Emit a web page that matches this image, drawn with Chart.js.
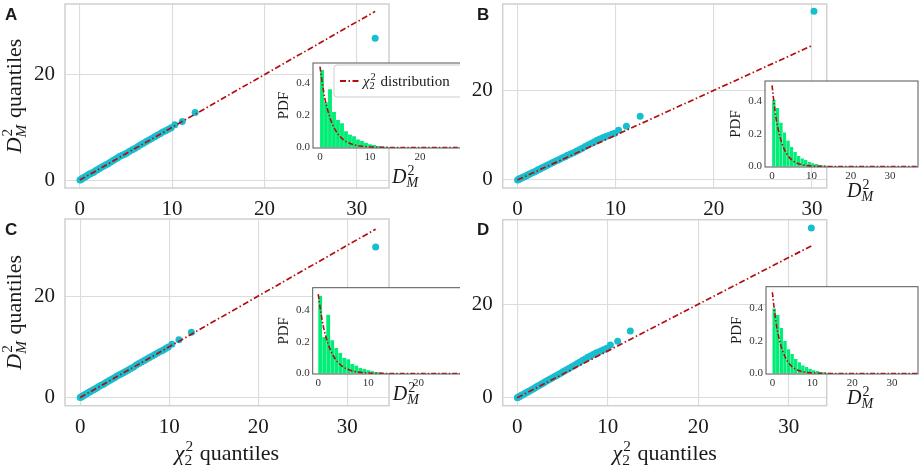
<!DOCTYPE html>
<html lang="en">
<head>
<meta charset="UTF-8">
<title>QQ plots of Mahalanobis distances</title>
<script src="https://cdn.jsdelivr.net/npm/chart.js"></script>
<style>
  body { margin: 0; background: #fff; }
  #fig { position: relative; width: 920px; height: 469px; overflow: hidden; }
  #fig canvas { position: absolute; }
</style>
</head>
<body>
<div id="fig"></div>
<script>
// ---- data ----
const qTicksX = [0, 10, 20, 30];
const qTicksY = [0, 20];
const pdfTicksY = [0, 0.2, 0.4];
const pdfTicksShort = [0, 10, 20];
const pdfTicksLong = [0, 10, 20, 30];

// chi2 quantiles (x) and D_M^2 quantiles (y), one pair per panel
const chiA = [0.02,0.1,0.2,0.3,0.42,0.55,0.7,0.85,1.0,1.15,1.3,1.5,1.7,1.9,2.1,2.3,2.5,2.7,2.9,3.1,3.35,3.6,3.85,4.1,4.35,4.6,4.85,5.1,5.4,5.7,6.0,6.3,6.6,6.9,7.2,7.5,7.8,8.1,8.4,8.7,9.0,9.3,9.6,9.9,10.3,11.1,12.5,32.0];
const dmA  = [0.0,0.08,0.22,0.35,0.45,0.58,0.75,0.9,1.1,1.2,1.35,1.5,1.75,1.95,2.15,2.4,2.6,2.75,2.95,3.15,3.45,3.7,3.95,4.25,4.5,4.7,4.9,5.15,5.45,5.75,6.05,6.35,6.7,7.0,7.3,7.6,7.9,8.2,8.5,8.8,9.1,9.35,9.65,9.95,10.5,11.1,12.8,26.9];
const refA = [0, 32.0];

const chiB = [0.02,0.1,0.2,0.3,0.42,0.55,0.7,0.85,1.0,1.15,1.3,1.5,1.7,1.9,2.1,2.3,2.5,2.7,2.9,3.1,3.35,3.6,3.85,4.1,4.35,4.6,4.85,5.1,5.4,5.7,6.0,6.3,6.6,6.9,7.2,7.5,7.8,8.1,8.4,8.7,9.0,9.3,9.6,9.9,10.3,11.1,12.5,30.2];
const dmB  = [0.0,0.1,0.2,0.32,0.45,0.58,0.74,0.9,1.05,1.2,1.38,1.58,1.8,2.0,2.25,2.45,2.7,2.9,3.1,3.35,3.6,3.9,4.15,4.4,4.7,4.95,5.2,5.5,5.8,6.1,6.4,6.75,7.1,7.45,7.8,8.15,8.5,8.85,9.15,9.45,9.7,9.95,10.2,10.45,11.1,12.0,14.2,37.7];
const refB = [0, 30.0];

const chiC = [0.02,0.1,0.2,0.3,0.42,0.55,0.7,0.85,1.0,1.15,1.3,1.5,1.7,1.9,2.1,2.3,2.5,2.7,2.9,3.1,3.35,3.6,3.85,4.1,4.35,4.6,4.85,5.1,5.4,5.7,6.0,6.3,6.6,6.9,7.2,7.5,7.8,8.1,8.4,8.7,9.0,9.3,9.6,9.9,10.3,11.1,12.5,33.2];
const dmC  = [0.0,0.1,0.2,0.33,0.45,0.6,0.72,0.88,1.05,1.2,1.35,1.52,1.72,1.95,2.2,2.38,2.55,2.75,2.95,3.15,3.4,3.65,3.9,4.2,4.45,4.65,4.9,5.15,5.45,5.75,6.05,6.4,6.7,7.0,7.3,7.6,7.9,8.2,8.5,8.8,9.1,9.35,9.65,9.95,10.5,11.4,12.9,29.7];
const refC = [0, 33.2];

const chiD = [0.02,0.1,0.2,0.3,0.42,0.55,0.7,0.85,1.0,1.15,1.3,1.5,1.7,1.9,2.1,2.3,2.5,2.7,2.9,3.1,3.35,3.6,3.85,4.1,4.35,4.6,4.85,5.1,5.4,5.7,6.0,6.3,6.6,6.9,7.2,7.5,7.8,8.1,8.4,8.7,9.0,9.3,9.6,9.9,10.3,11.1,12.5,32.5];
const dmD  = [0.0,0.1,0.22,0.33,0.46,0.6,0.75,0.92,1.08,1.24,1.4,1.6,1.82,2.05,2.28,2.5,2.72,2.95,3.15,3.4,3.68,3.95,4.22,4.5,4.78,5.05,5.32,5.6,5.92,6.25,6.58,6.92,7.25,7.6,7.95,8.3,8.65,8.95,9.25,9.55,9.8,10.05,10.3,10.6,11.3,12.1,14.3,36.3];
const refD = [0, 32.5];

// inset histograms: bin centres and densities
const binsAC = [0.4,1.2,2.0,2.8,3.6,4.4,5.2,6.0,6.8,7.6,8.4,9.2,10.0,10.8,11.6,12.4,13.2,14.0,14.8,15.6];
const histA  = [0.48,0.28,0.36,0.22,0.17,0.15,0.10,0.08,0.07,0.05,0.04,0.03,0.02,0.015,0.01,0.007,0.005,0.003,0.002,0.001];
const histC  = [0.49,0.23,0.37,0.21,0.16,0.13,0.10,0.09,0.06,0.05,0.035,0.03,0.02,0.014,0.01,0.007,0.005,0.003,0.002,0.001];
const binsBD = [0.45,1.35,2.25,3.15,4.05,4.95,5.85,6.75,7.65,8.55,9.45,10.35,11.25,12.15,13.05,13.95,14.85,15.75,16.65];
const histB  = [0.41,0.36,0.27,0.21,0.16,0.12,0.09,0.065,0.05,0.04,0.028,0.02,0.015,0.01,0.007,0.005,0.003,0.002,0.001];
const histD  = [0.40,0.36,0.28,0.20,0.15,0.12,0.09,0.07,0.05,0.04,0.03,0.02,0.015,0.01,0.007,0.005,0.003,0.002,0.001];

// chi2(2) density curve
const pdfX = [0,0.5,1,1.5,2,2.5,3,3.5,4,5,6,7,8,9,10,12,14,17,20,25,30,37];
const pdfY = [0.50,0.39,0.30,0.235,0.184,0.143,0.112,0.087,0.068,0.041,0.025,0.015,0.009,0.0056,0.0034,0.0012,0.0005,0.0001,0,0,0,0];

// ---- styles ----
const SERIF = '"Liberation Serif", "DejaVu Serif", serif';
const CYAN = '#17becf';
const RED = '#b50d0d';
const GREEN = '#00ee78';
const TXT = '#1a1a1a';
const DASH = [6, 2.5, 1.5, 2.5];

const dmTitle = [['i', 'D'], ['s', '2', 'M', true], ['n', ' quantiles']];
const chiTitle = [['i', 'χ'], ['s', '2', '2', false], ['n', ' quantiles']];
const dmShort = [['i', 'D'], ['s', '2', 'M', true]];
const legendText = [['i', 'χ'], ['s', '2', '2', false], ['n', ' distribution']];

// draws base text with stacked super/subscripts, returns width
function mathText(ctx, parts, size, x, y, draw) {
  let cx = x;
  for (const p of parts) {
    if (p[0] !== 's') {
      ctx.font = (p[0] === 'i' ? 'italic ' : '') + size + 'px ' + SERIF;
      if (draw) ctx.fillText(p[1], cx, y);
      cx += ctx.measureText(p[1]).width;
    } else {
      const s = size * 0.7;
      ctx.font = s + 'px ' + SERIF;
      const wSup = ctx.measureText(p[1]).width;
      if (draw) ctx.fillText(p[1], cx + 1, y - size * 0.4);
      ctx.font = (p[3] ? 'italic ' : '') + s + 'px ' + SERIF;
      const wSub = ctx.measureText(p[2]).width;
      if (draw) ctx.fillText(p[2], cx, y + size * 0.22);
      cx += Math.max(wSup + 1, wSub) + 1;
    }
  }
  return cx - x;
}

function centredMath(ctx, parts, size, cx, y) {
  const w = mathText(ctx, parts, size, 0, 0, false);
  mathText(ctx, parts, size, cx - w / 2, y, true);
}

const deco = {
  id: 'deco',
  beforeDraw(chart, args, o) {
    const { ctx, chartArea: a } = chart;
    ctx.save();
    ctx.fillStyle = '#fff';
    if (o.fillAll) ctx.fillRect(0, 0, chart.width, chart.height);
    else ctx.fillRect(a.left, a.top, a.right - a.left, a.bottom - a.top);
    ctx.restore();
  },
  afterDraw(chart, args, o) {
    const { ctx, chartArea: a } = chart;
    ctx.save();
    ctx.strokeStyle = o.frame;
    ctx.lineWidth = o.frameWidth;
    ctx.strokeRect(a.left, a.top, a.right - a.left, a.bottom - a.top);
    ctx.fillStyle = TXT;
    ctx.textAlign = 'left';
    ctx.textBaseline = 'alphabetic';
    if (o.letter) {
      ctx.font = 'bold 17px "Liberation Sans", Arial, sans-serif';
      ctx.fillText(o.letter, o.letterX, 20);
    }
    if (o.yTitle) {
      ctx.save();
      ctx.translate(21, (a.top + a.bottom) / 2);
      ctx.rotate(-Math.PI / 2);
      centredMath(ctx, o.yTitle, 22, 0, 0);
      ctx.restore();
    }
    if (o.xTitle) centredMath(ctx, o.xTitle, 22, (a.left + a.right) / 2, o.xTitleY);
    if (o.pdf) {
      ctx.save();
      ctx.translate(a.left - 29, (a.top + a.bottom) / 2);
      ctx.rotate(-Math.PI / 2);
      ctx.font = '15px ' + SERIF;
      ctx.textAlign = 'center';
      ctx.textBaseline = 'middle';
      ctx.fillText('PDF', 0, 0);
      ctx.restore();
      mathText(ctx, dmShort, 20, a.left + o.labelDx, a.bottom + o.labelDy, true);
    }
    if (o.legend) {
      const lx = a.left + 21, ly = a.top + 2, lw = a.right - 3 - lx, lh = 32;
      ctx.fillStyle = 'rgba(255,255,255,0.85)';
      ctx.strokeStyle = '#cccccc';
      ctx.lineWidth = 1;
      ctx.beginPath();
      ctx.roundRect(lx, ly, lw, lh, 3);
      ctx.fill();
      ctx.stroke();
      ctx.strokeStyle = RED;
      ctx.lineWidth = 1.8;
      ctx.setLineDash(DASH);
      ctx.beginPath();
      ctx.moveTo(a.left + 27, a.top + 18);
      ctx.lineTo(a.left + 46, a.top + 18);
      ctx.stroke();
      ctx.setLineDash([]);
      ctx.fillStyle = TXT;
      mathText(ctx, legendText, 15, a.left + 50, a.top + 23, true);
    }
    ctx.restore();
  }
};

const fig = document.getElementById('fig');
function addCanvas(b) {
  const c = document.createElement('canvas');
  c.width = b.w; c.height = b.h;
  c.style.left = b.l + 'px'; c.style.top = b.t + 'px';
  c.style.width = b.w + 'px'; c.style.height = b.h + 'px';
  fig.appendChild(c);
  return c;
}

function setTicks(list) {
  return s => { s.ticks = list.map(v => ({ value: v })); };
}
// fix the axis band sizes and drop the label overhang padding
function fitX(h) {
  return s => { s.height = h; s.paddingLeft = 0; s.paddingRight = 0; };
}
function fitY(w) {
  return s => { s.width = w; s.paddingTop = 0; s.paddingBottom = 0; };
}

// main QQ panel; area is absolute page coordinates of the plot box
function qqChart(p) {
  const b = p.box, a = p.area;
  const c = addCanvas(b);
  new Chart(c, {
    type: 'scatter',
    data: {
      datasets: [
        { type: 'line', data: p.ref.map(v => ({ x: v, y: v })), borderColor: RED, borderWidth: 1.7,
          borderDash: DASH, pointRadius: 0, fill: false },
        { data: p.chi.map((x, i) => ({ x: x, y: p.dm[i] })), backgroundColor: CYAN,
          pointRadius: 3.5, pointBorderWidth: 0 }
      ]
    },
    options: {
      responsive: false, animation: false, events: [],
      layout: { padding: { top: a.t - b.t, right: b.l + b.w - a.r, left: 0, bottom: 0 } },
      plugins: {
        legend: { display: false }, tooltip: { enabled: false },
        deco: { fillAll: true, frame: '#d0d0d0', frameWidth: 1.5, letter: p.letter, letterX: p.letterX,
                yTitle: p.yTitle, xTitle: p.xTitle, xTitleY: 245 }
      },
      scales: {
        x: {
          type: 'linear', min: p.x[0], max: p.x[1],
          afterBuildTicks: setTicks(qTicksX),
          afterFit: fitX(b.t + b.h - a.b),
          grid: { color: '#dcdcdc', lineWidth: 1.1, drawTicks: false },
          border: { display: false },
          ticks: { font: { family: SERIF, size: 21 }, color: TXT, padding: 9, maxRotation: 0 }
        },
        y: {
          type: 'linear', min: p.y[0], max: p.y[1],
          afterBuildTicks: setTicks(qTicksY),
          afterFit: fitY(a.l - b.l),
          grid: { color: '#dcdcdc', lineWidth: 1.1, drawTicks: false },
          border: { display: false },
          ticks: { font: { family: SERIF, size: 21 }, color: TXT, padding: 10 }
        }
      }
    },
    plugins: [deco]
  });
}

// inset histogram with the chi2 density
function pdfChart(p) {
  const b = p.box, a = p.area;
  const c = addCanvas(b);
  new Chart(c, {
    type: 'bar',
    data: {
      datasets: [
        { type: 'line', data: pdfX.map((x, i) => ({ x: x, y: pdfY[i] })), borderColor: RED, borderWidth: 1.6,
          borderDash: [5, 2, 1.5, 2], pointRadius: 0, fill: false, cubicInterpolationMode: 'monotone' },
        { type: 'bar', data: p.bins.map((x, i) => ({ x: x, y: p.hist[i] })), backgroundColor: GREEN,
          borderColor: 'rgba(255,255,255,0.7)', borderWidth: { left: 0.4, right: 0.4, top: 0, bottom: 0 },
          borderSkipped: false, barPercentage: 1, categoryPercentage: 1 }
      ]
    },
    options: {
      responsive: false, animation: false, events: [],
      layout: { padding: { top: a.t - b.t, right: b.l + b.w - a.r, left: 0, bottom: 0 } },
      plugins: {
        legend: { display: false }, tooltip: { enabled: false },
        deco: { fillAll: false, frame: '#555555', frameWidth: 1, pdf: true,
                labelDx: p.labelDx, labelDy: p.labelDy, legend: p.legend }
      },
      scales: {
        x: {
          type: 'linear', min: p.x[0], max: p.x[1], offset: false,
          afterBuildTicks: setTicks(p.xTicks),
          afterFit: fitX(b.t + b.h - a.b),
          grid: { display: false, drawTicks: false, offset: false },
          border: { display: false },
          ticks: { font: { family: SERIF, size: 11 }, color: '#333', padding: 3, maxRotation: 0 }
        },
        y: {
          type: 'linear', min: p.y[0], max: p.y[1],
          afterBuildTicks: setTicks(pdfTicksY),
          afterFit: fitY(a.l - b.l),
          grid: { display: false, drawTicks: false },
          border: { display: false },
          ticks: { font: { family: SERIF, size: 11 }, color: '#333', padding: 3,
                   callback: v => v.toFixed(1) }
        }
      }
    },
    plugins: [deco]
  });
}

qqChart({ box: { l: 0, t: 0, w: 460, h: 215 }, area: { l: 65, t: 2, r: 389, b: 188 },
  chi: chiA, dm: dmA, ref: refA, x: [-1.6, 33.5], y: [-1.5, 33.4],
  letter: 'A', letterX: 5, yTitle: dmTitle });
pdfChart({ box: { l: 270, t: 55, w: 200, h: 140 }, area: { l: 313, t: 63, r: 466, b: 148 },
  bins: binsAC, hist: histA, x: [-1.4, 29.2], y: [-0.003, 0.523], xTicks: pdfTicksShort,
  labelDx: 79, labelDy: 35, legend: true });

qqChart({ box: { l: 460, t: 0, w: 460, h: 215 }, area: { l: 502.7, t: 3, r: 826.7, b: 188 },
  chi: chiB, dm: dmB, ref: refB, x: [-1.5, 31.5], y: [-1.8, 39.3],
  letter: 'B', letterX: 17 });
pdfChart({ box: { l: 722, t: 72, w: 198, h: 140 }, area: { l: 765, t: 81, r: 918, b: 167 },
  bins: binsBD, hist: histB, x: [-1.8, 37.1], y: [-0.003, 0.527], xTicks: pdfTicksLong,
  labelDx: 82, labelDy: 30 });

qqChart({ box: { l: 0, t: 215, w: 460, h: 254 }, area: { l: 65, t: 219, r: 389, b: 405.7 },
  chi: chiC, dm: dmC, ref: refC, x: [-1.7, 34.7], y: [-1.6, 35.2],
  letter: 'C', letterX: 5, yTitle: dmTitle, xTitle: chiTitle });
pdfChart({ box: { l: 270, t: 280, w: 200, h: 140 }, area: { l: 312.7, t: 287.7, r: 466, b: 374 },
  bins: binsAC, hist: histC, x: [-1.1, 29.5], y: [-0.003, 0.54], xTicks: pdfTicksShort,
  labelDx: 80, labelDy: 26 });

qqChart({ box: { l: 460, t: 215, w: 460, h: 254 }, area: { l: 502.7, t: 219.7, r: 826.7, b: 405.7 },
  chi: chiD, dm: dmD, ref: refD, x: [-1.6, 34.2], y: [-1.7, 38.1],
  letter: 'D', letterX: 17, xTitle: chiTitle });
pdfChart({ box: { l: 722, t: 278, w: 198, h: 140 }, area: { l: 766, t: 286.7, r: 918, b: 374 },
  bins: binsBD, hist: histD, x: [-1.6, 36.5], y: [-0.003, 0.534], xTicks: pdfTicksLong,
  labelDx: 81, labelDy: 30 });
</script>
</body>
</html>
